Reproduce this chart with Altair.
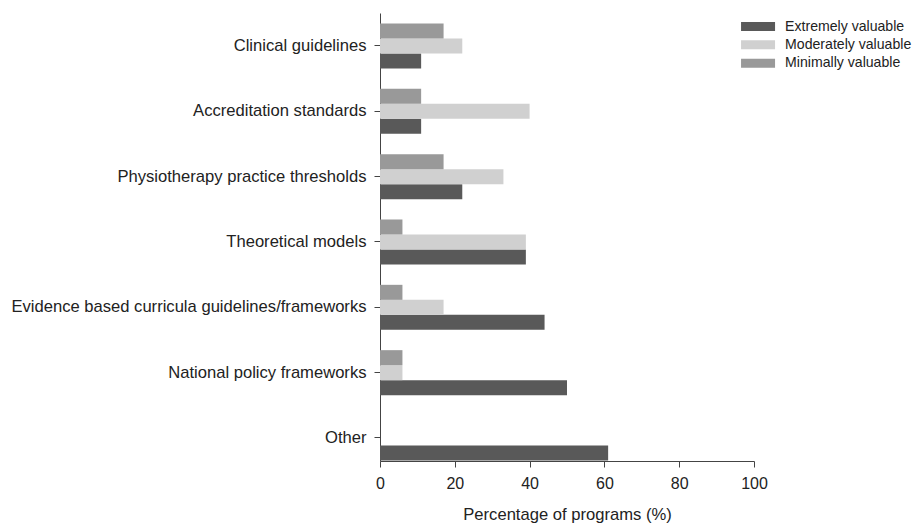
import altair as alt
import pandas as pd

categories = [
    "Clinical guidelines",
    "Accreditation standards",
    "Physiotherapy practice thresholds",
    "Theoretical models",
    "Evidence based curricula guidelines/frameworks",
    "National policy frameworks",
    "Other",
]
series_names = ["Extremely valuable", "Moderately valuable", "Minimally valuable"]
extremely = [11, 11, 22, 39, 44, 50, 61]
moderately = [22, 40, 33, 39, 17, 6, 0]
minimally = [17, 11, 17, 6, 6, 6, 0]
x_ticks = [0, 20, 40, 60, 80, 100]
colors = ["#595959", "#d0d0d0", "#999999"]

rows = []
for name, vals in zip(series_names, [extremely, moderately, minimally]):
    for c, v in zip(categories, vals):
        rows.append({"category": c, "series": name, "value": v})
df = pd.DataFrame(rows)

FONT = "Liberation Sans"

chart = alt.Chart(df).mark_bar().encode(
    x=alt.X(
        "value:Q",
        scale=alt.Scale(domain=[0, 100], nice=False),
        axis=alt.Axis(
            values=x_ticks,
            title="Percentage of programs (%)",
            grid=False,
            tickSize=6,
            labelFontSize=16,
            titleFontSize=16.6,
            labelPadding=8,
            titlePadding=15,
            labelFlush=False,
            titleFontWeight="normal",
            domainColor="#444444",
            tickColor="#444444",
            labelColor="#222222",
            titleColor="#222222",
        ),
    ),
    y=alt.Y(
        "category:N",
        sort=categories,
        scale=alt.Scale(paddingInner=0.311, paddingOuter=0.084, align=0.955),
        axis=alt.Axis(
            title=None,
            tickSize=6,
            labelFontSize=16.6,
            labelPadding=8,
            labelLimit=400,
            domainColor="#444444",
            tickColor="#444444",
            labelColor="#222222",
        ),
    ),
    yOffset=alt.YOffset(
        "series:N",
        sort=["Minimally valuable", "Moderately valuable", "Extremely valuable"],
        scale=alt.Scale(paddingInner=0, paddingOuter=0),
    ),
    color=alt.Color(
        "series:N",
        scale=alt.Scale(domain=series_names, range=colors),
        legend=alt.Legend(
            title=None,
            orient="none",
            legendX=371,
            legendY=6.5,
            symbolType="M-3.4,-0.9L3.4,-0.9L3.4,0.9L-3.4,0.9Z",
            symbolSize=100,
            symbolStrokeWidth=0,
            symbolOpacity=1,
            labelFontSize=14.1,
            labelOffset=20,
            labelLimit=300,
            labelColor="#222222",
            rowPadding=3.3,
            padding=0,
        ),
    ),
).properties(
    width=374,
    height=448,
    autosize=alt.AutoSizeParams(type="none"),
    padding={"left": 372, "top": 5, "right": 158, "bottom": 64},
).configure(
    font=FONT,
).configure_view(
    stroke=None,
)

chart.save("out.html", embed_options={"renderer": "svg", "actions": False})
